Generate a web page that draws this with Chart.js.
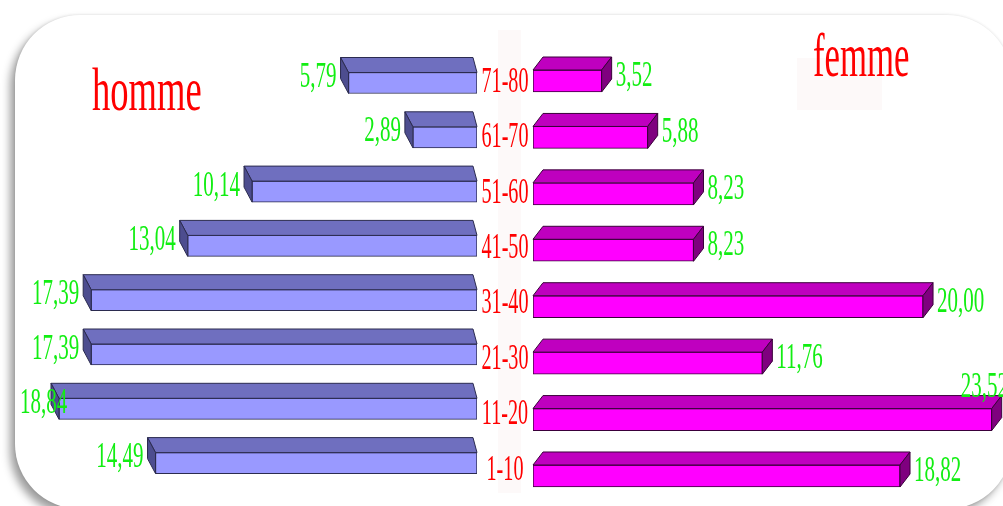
<!DOCTYPE html>
<html><head><meta charset="utf-8">
<script src="https://cdn.jsdelivr.net/npm/chart.js@4.4.0/dist/chart.umd.min.js"></script>
<style>
html,body{margin:0;padding:0;background:#fff;width:1003px;height:506px;overflow:hidden;position:relative;}
#card{position:absolute;left:15px;top:15px;width:997px;height:494px;border-radius:65px;background:#fff;box-shadow:-5px 6px 9px rgba(0,0,0,0.38),0 0 3px rgba(0,0,0,0.12);}
.faint{position:absolute;background:#fdf9f9;}
canvas{position:absolute;left:0;top:0;}
.title{position:absolute;font-family:"Liberation Serif","Times New Roman",serif;color:#ff0000;font-size:62px;line-height:62px;transform:scaleX(0.59);transform-origin:0 0;white-space:nowrap;}
</style></head>
<body>
<div id="card"></div>
<div class="faint" style="left:498px;top:30px;width:23px;height:463px"></div>
<div class="faint" style="left:797px;top:58px;width:85px;height:52px"></div>
<canvas id="men" width="1003" height="506"></canvas>
<canvas id="women" width="1003" height="506"></canvas>
<div class="title" style="left:92px;top:58px">homme</div>
<div class="title" style="left:813px;top:25px;font-size:61px;line-height:61px;transform:scaleX(0.57)">femme</div>
<script>
// ---- data ----
const ageGroups = ['71-80','61-70','51-60','41-50','31-40','21-30','11-20','1-10'];
const hommeValues = [5.79, 2.89, 10.14, 13.04, 17.39, 17.39, 18.84, 14.49];
const femmeValues = [3.52, 5.88, 8.23, 8.23, 20.00, 11.76, 23.52, 18.82];
const seriesNames = ['homme', 'femme'];
const hommeAxisMax = 21.5;
const femmeAxisMax = 24.1;

const FONT = '"Liberation Serif","Times New Roman",serif';
function condensedText(ctx, text, x, y, size, color, align, sx) {
  ctx.save();
  ctx.font = size + 'px ' + FONT;
  ctx.fillStyle = color;
  ctx.textAlign = align;
  ctx.textBaseline = 'alphabetic';
  ctx.translate(x, y);
  ctx.scale(sx, 1);
  ctx.fillText(text, 0, 0);
  ctx.restore();
}
function fmt(v) { return v.toFixed(2).replace('.', ','); }

const bar3d = {
  id: 'bar3d',
  afterDatasetsDraw(chart, args, o) {
    const ctx = chart.ctx;
    const meta = chart.getDatasetMeta(0);
    const values = chart.data.datasets[0].data;
    meta.data.forEach((bar, i) => {
      const p = bar.getProps(['x', 'y', 'base', 'height'], true);
      const top = p.y - p.height / 2, bottom = p.y + p.height / 2;
      const left = Math.min(p.x, p.base), right = Math.max(p.x, p.base);
      ctx.save();
      ctx.lineWidth = 1; ctx.strokeStyle = o.edge; ctx.lineJoin = 'round';
      ctx.beginPath();
      ctx.moveTo(left, top); ctx.lineTo(right, top);
      ctx.lineTo(right + o.dxR, top + o.dy); ctx.lineTo(left + o.dxL, top + o.dy);
      ctx.closePath(); ctx.fillStyle = o.topColor; ctx.fill(); ctx.stroke();
      const sx = o.side === 'left' ? left : right;
      const dx = o.side === 'left' ? o.dxL : o.dxR;
      ctx.beginPath();
      ctx.moveTo(sx, top); ctx.lineTo(sx + dx, top + o.dy);
      ctx.lineTo(sx + dx, bottom + o.dy); ctx.lineTo(sx, bottom);
      ctx.closePath(); ctx.fillStyle = o.sideColor; ctx.fill(); ctx.stroke();
      ctx.restore();

      const txt = fmt(values[i]);
      ctx.save(); ctx.font = o.labelSize + 'px ' + FONT;
      const w = ctx.measureText(txt).width * o.labelScale; ctx.restore();
      if (o.side === 'left') {
        let xr = left - 12;
        if (xr - w < o.minX) xr = o.minX + w;
        condensedText(ctx, txt, xr, p.y + 4, o.labelSize, o.labelColor, 'right', o.labelScale);
      } else {
        const xl = right + 14;
        if (xl + w > o.maxX) {
          condensedText(ctx, txt, o.maxX + 5, top + o.dy + 1, o.labelSize, o.labelColor, 'right', o.labelScale);
        } else {
          condensedText(ctx, txt, xl, p.y + 5, o.labelSize, o.labelColor, 'left', o.labelScale);
        }
      }
    });
  }
};

let menChart = null;
const ageLabels = {
  id: 'ageLabels',
  afterDraw(chart) {
    if (!menChart) return;
    const ctx = chart.ctx;
    const my = menChart.scales.y, wy = chart.scales.y;
    const xc = (menChart.scales.x.getPixelForValue(0) + chart.scales.x.getPixelForValue(0)) / 2;
    ageGroups.forEach((lab, i) => {
      const yc = (my.getPixelForValue(i) + wy.getPixelForValue(i)) / 2 - 2;
      condensedText(ctx, lab, xc, yc + 12, 36, '#ff0000', 'center', 0.56);
    });
  }
};

const commonPlugins = { legend: { display: false }, tooltip: { enabled: false } };

menChart = new Chart(document.getElementById('men'), {
  type: 'bar',
  data: { labels: ageGroups, datasets: [{
    label: seriesNames[0], data: hommeValues,
    backgroundColor: '#9999ff', borderColor: '#2b2b4f', borderWidth: 1,
    borderSkipped: false, barThickness: 21
  }]},
  options: {
    indexAxis: 'y', responsive: false, animation: false, devicePixelRatio: 1,
    layout: { padding: { left: 0, right: 526, top: 55.85, bottom: 15.75 } },
    scales: {
      x: { type: 'linear', reverse: true, min: 0, max: hommeAxisMax, display: false },
      y: { type: 'category', display: false, offset: true }
    },
    plugins: Object.assign({}, commonPlugins, {
      bar3d: { side: 'left', dxL: -8, dxR: -4, dy: -15, topColor: '#6f6fbf', sideColor: '#4d4d8f',
               edge: '#2b2b4f', labelSize: 35, labelScale: 0.6, labelColor: '#12ee12', minX: 20, maxX: 1003 }
    })
  },
  plugins: [bar3d]
});

new Chart(document.getElementById('women'), {
  type: 'bar',
  data: { labels: ageGroups, datasets: [{
    label: seriesNames[1], data: femmeValues,
    backgroundColor: '#ff00ff', borderColor: '#3a003a', borderWidth: 1,
    borderSkipped: false, barThickness: 22
  }]},
  options: {
    indexAxis: 'y', responsive: false, animation: false, devicePixelRatio: 1,
    layout: { padding: { left: 533, right: 0, top: 52.8, bottom: 1.8 } },
    scales: {
      x: { type: 'linear', min: 0, max: femmeAxisMax, display: false },
      y: { type: 'category', display: false, offset: true }
    },
    plugins: Object.assign({}, commonPlugins, {
      bar3d: { side: 'right', dxL: 10, dxR: 10, dy: -13, topColor: '#bf00bf', sideColor: '#7f007f',
               edge: '#3a003a', labelSize: 35, labelScale: 0.6, labelColor: '#12ee12', minX: 20, maxX: 1003 }
    })
  },
  plugins: [bar3d, ageLabels]
});
</script>
</body></html>
